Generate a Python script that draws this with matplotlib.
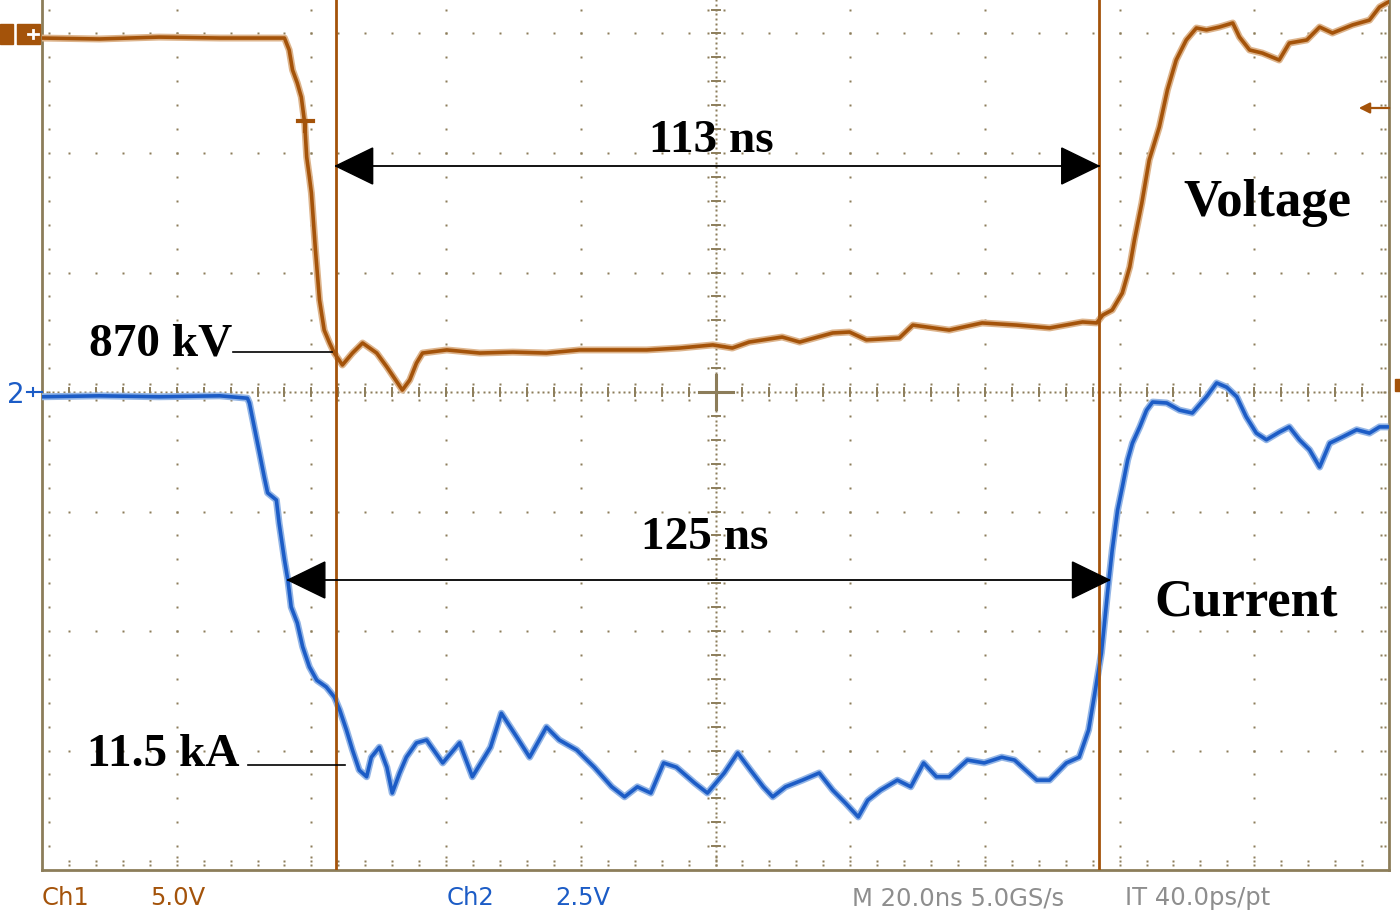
import numpy as np
import matplotlib
matplotlib.use("Agg")
import matplotlib.pyplot as plt
from matplotlib.patches import Polygon, Rectangle
from matplotlib.lines import Line2D

# ---------------- data ----------------
time_v_ns = [-100.0, -91.5, -82.6, -73.6, -64.0, -63.3, -62.8, -62.1, -61.5, -61.0,
             -60.7, -60.3, -60.0, -59.4, -58.8, -58.1, -57.3, -56.6, -55.4, -53.9,
             -52.4, -50.3, -48.8, -47.2, -46.5, -45.4, -44.4, -43.5, -39.9, -35.0,
             -30.1, -25.1, -20.2, -15.3, -10.2, -5.3, -0.4, 2.5, 5.0, 9.9,
             12.5, 17.4, 19.9, 22.4, 27.3, 29.3, 34.7, 39.6, 44.7, 49.6,
             54.5, 56.6, 57.5, 58.9, 60.4, 61.5, 62.2, 63.3, 64.4, 65.9,
             67.1, 68.4, 69.9, 71.4, 72.9, 74.8, 76.8, 77.8, 79.3, 81.2,
             83.7, 85.2, 87.8, 89.7, 91.6, 94.6, 97.1, 98.6, 99.9]
ch1_volts = [-0.19, -0.23, -0.15, -0.19, -0.19, -0.69, -1.53, -2.07, -2.66, -3.74,
             -5.17, -6.00, -6.67, -9.06, -11.15, -12.41, -12.95, -13.37, -13.87, -13.37,
             -12.95, -13.37, -13.95, -14.62, -14.92, -14.50, -13.79, -13.37, -13.24, -13.37,
             -13.33, -13.37, -13.24, -13.24, -13.24, -13.16, -13.03, -13.16, -12.91, -12.70,
             -12.91, -12.53, -12.49, -12.82, -12.74, -12.20, -12.41, -12.11, -12.20, -12.32,
             -12.07, -12.11, -11.78, -11.57, -10.86, -9.77, -8.64, -7.09, -5.29, -3.91,
             -2.36, -1.11, -0.27, 0.23, 0.15, 0.27, 0.44, -0.15, -0.69, -0.82,
             -1.11, -0.40, -0.27, 0.27, 0.02, 0.36, 0.56, 1.11, 1.32]

time_i_ns = [-100.0, -91.5, -82.6, -73.6, -69.5, -69.2, -68.4, -67.7, -67.0, -66.5,
             -65.2, -64.8, -64.0, -63.5, -63.0, -62.1, -61.3, -60.3, -59.2, -57.8,
             -56.6, -55.8, -54.8, -53.9, -52.9, -51.8, -51.1, -49.9, -48.8, -48.0,
             -46.9, -45.9, -44.4, -42.9, -40.5, -38.0, -36.1, -33.4, -31.8, -29.5,
             -27.6, -25.1, -23.2, -20.6, -18.0, -15.4, -13.5, -11.6, -9.6, -7.7,
             -5.8, -3.1, -1.2, 1.3, 3.3, 5.2, 7.1, 8.5, 10.4, 12.9,
             15.4, 17.4, 19.3, 21.2, 22.6, 24.5, 27.0, 29.0, 30.9, 32.8,
             34.7, 37.4, 39.9, 42.5, 44.4, 47.7, 49.6, 52.1, 54.0, 55.4,
             56.4, 57.3, 58.2, 58.9, 59.7, 60.4, 61.2, 61.9, 63.0, 64.0,
             64.9, 67.0, 68.9, 70.8, 72.9, 74.4, 75.9, 77.4, 78.8, 80.3,
             81.8, 83.7, 85.2, 86.7, 88.2, 89.7, 91.2, 93.1, 95.2, 97.1,
             98.6, 99.9]
ch2_volts = [-0.10, -0.08, -0.10, -0.08, -0.13, -0.23, -0.79, -1.28, -1.78, -2.11,
             -2.26, -2.74, -3.51, -3.93, -4.50, -4.83, -5.33, -5.75, -6.03, -6.17,
             -6.38, -6.65, -7.07, -7.49, -7.91, -8.05, -7.64, -7.43, -7.85, -8.39,
             -7.97, -7.64, -7.34, -7.28, -7.76, -7.34, -8.05, -7.43, -6.72, -7.22,
             -7.64, -7.01, -7.28, -7.49, -7.85, -8.26, -8.47, -8.26, -8.39, -7.76,
             -7.85, -8.18, -8.39, -7.97, -7.55, -7.91, -8.26, -8.47, -8.26, -8.12,
             -7.97, -8.33, -8.60, -8.89, -8.54, -8.33, -8.12, -8.26, -7.76, -8.05,
             -8.05, -7.70, -7.76, -7.64, -7.70, -8.12, -8.12, -7.76, -7.64, -7.07,
             -6.23, -5.46, -4.21, -3.31, -2.47, -1.99, -1.42, -1.07, -0.73, -0.38,
             -0.21, -0.23, -0.38, -0.44, -0.10, 0.19, 0.10, -0.10, -0.52, -0.86,
             -1.00, -0.84, -0.73, -1.00, -1.21, -1.57, -1.07, -0.94, -0.79, -0.86,
             -0.73, -0.73]

# scope settings
TIME_SCALE = 20.0     # ns/div
CH1_SCALE = 5.0       # V/div
CH2_SCALE = 2.5       # V/div
CH1_OFFSET = 3.0      # div
CH2_OFFSET = 0.0      # div
cursor_times_ns = [-56.4, 56.9]
current_marks_ns = [-63.5, 58.5]

labels_bottom = ["Ch1", "5.0V", "Ch2", "2.5V", "M 20.0ns 5.0GS/s", "IT 40.0ps/pt"]

# ---------------- styling ----------------
W, H = 1400, 911
GRID = "#8C7D5A"
BROWN = "#A4530A"
BROWN_L = "#DDB48C"
BLUE = "#1C5CC6"
BLUE_L = "#93B5E6"
GRAY = "#8E8E8E"

fig = plt.figure(figsize=(W / 100, H / 100), dpi=100)
fig.patch.set_facecolor("white")

left_px, right_px, bottom_px = 42, 1389, 870
px_per_div_x = (right_px - left_px) / 10.0
px_per_div_y = 119.5
top_px = bottom_px - 8 * px_per_div_y
ax = fig.add_axes([left_px / W, (H - bottom_px) / H,
                   (right_px - left_px) / W, (bottom_px - top_px) / H])
ax.set_xlim(-5, 5)
ax.set_ylim(-4, 4)
ax.set_xticks([])
ax.set_yticks([])
for s in ax.spines.values():
    s.set_color(GRID)
    s.set_linewidth(2.0)
ax.set_facecolor("white")

cx_px = (left_px + right_px) / 2.0
cy_px = bottom_px - 4 * px_per_div_y


def dx(px):
    return (px - cx_px) / px_per_div_x


def dy(py):
    return (cy_px - py) / px_per_div_y


def ddx(n):
    return n / px_per_div_x


def ddy(n):
    return n / px_per_div_y


# ---------------- graticule ----------------
minor = np.round(np.arange(-5, 5.0001, 0.2), 4)
minor_y = np.round(np.arange(-4, 4.0001, 0.2), 4)
dot_kw = dict(ls="none", marker="s", ms=1.8, color=GRID, mec="none", zorder=1)
for yj in range(-3, 4):
    if yj == 0:
        continue
    ax.plot(minor[1:-1], [yj] * (len(minor) - 2), **dot_kw)
for xi in range(-4, 5):
    if xi == 0:
        continue
    ax.plot([xi] * (len(minor_y) - 2), minor_y[1:-1], **dot_kw)

dense_x = np.arange(-5, 5.0001, 0.04)
dense_y = np.arange(-4, 4.0001, 0.04)
ax.plot(dense_x, np.zeros_like(dense_x), **dot_kw)
ax.plot(np.zeros_like(dense_y), dense_y, **dot_kw)
for m in minor[1:-1]:
    ax.plot([m, m], [-ddy(4), ddy(4)], color=GRID, lw=1.4, zorder=1)
    ax.plot([m, m], [-ddy(8), ddy(8)], **dot_kw)
for m in minor_y[1:-1]:
    ax.plot([-ddx(4), ddx(4)], [m, m], color=GRID, lw=1.4, zorder=1)
    ax.plot([-ddx(8), ddx(8)], [m, m], **dot_kw)
ax.plot([-ddx(17), ddx(17)], [0, 0], color=GRID, lw=2.2, zorder=1)
ax.plot([0, 0], [-ddy(17), ddy(17)], color=GRID, lw=2.2, zorder=1)

ax.plot(minor[1:-1], [-4 + ddy(5)] * (len(minor) - 2), **dot_kw)
ax.plot(minor[1:-1], [-4 + ddy(9)] * (len(minor) - 2), **dot_kw)
ax.plot(np.arange(-4, 5), [-4 + ddy(13)] * 9, **dot_kw)
ax.plot([-5 + ddx(7)] * (len(minor_y) - 2), minor_y[1:-1], **dot_kw)
ax.plot([5 - ddx(4)] * (len(minor_y) - 2), minor_y[1:-1], **dot_kw)
ax.plot([5 - ddx(8)] * (len(minor_y) - 2), minor_y[1:-1], **dot_kw)

# ---------------- traces ----------------
tv = np.array(time_v_ns) / TIME_SCALE
yv = CH1_OFFSET + np.array(ch1_volts) / CH1_SCALE
ti = np.array(time_i_ns) / TIME_SCALE
yi = CH2_OFFSET + np.array(ch2_volts) / CH2_SCALE
ax.plot(tv, yv, color=BROWN_L, lw=5.0, zorder=3, solid_capstyle="butt")
ax.plot(tv, yv, color=BROWN, lw=2.6, zorder=4)
ax.plot(ti, yi, color=BLUE_L, lw=5.0, zorder=3, solid_capstyle="butt")
ax.plot(ti, yi, color=BLUE, lw=2.6, zorder=4)

for ct in cursor_times_ns:
    ax.axvline(ct / TIME_SCALE, color=BROWN, lw=2.0, zorder=5)


def dbl_arrow(x0, x1, y):
    ax.plot([x0, x1], [y, y], color="black", lw=1.3, zorder=6)
    hl, hh = ddx(37), ddy(18)
    ax.add_patch(Polygon([[x0, y], [x0 + hl, y + hh], [x0 + hl, y - hh]],
                         closed=True, color="black", zorder=6))
    ax.add_patch(Polygon([[x1, y], [x1 - hl, y + hh], [x1 - hl, y - hh]],
                         closed=True, color="black", zorder=6))


dbl_arrow(cursor_times_ns[0] / TIME_SCALE, cursor_times_ns[1] / TIME_SCALE, dy(166))
dbl_arrow(current_marks_ns[0] / TIME_SCALE, current_marks_ns[1] / TIME_SCALE, dy(580))

serif = dict(family="Liberation Serif", fontweight="bold", color="black", zorder=7)
ax.text(dx(711), dy(152), "113 ns", ha="center", va="baseline", fontsize=34, **serif)
ax.text(dx(705), dy(549), "125 ns", ha="center", va="baseline", fontsize=34, **serif)
ax.text(dx(1267), dy(216), "Voltage", ha="center", va="baseline", fontsize=38, **serif)
ax.text(dx(1246), dy(616), "Current", ha="center", va="baseline", fontsize=38, **serif)
ax.text(dx(232), dy(356), "870 kV", ha="right", va="baseline", fontsize=34, **serif)
ax.text(dx(240), dy(766), "11.5 kA", ha="right", va="baseline", fontsize=34, **serif)
ax.plot([dx(233), dx(332)], [dy(352), dy(352)], color="black", lw=1.2, zorder=6)
ax.plot([dx(248), dx(345)], [dy(765), dy(765)], color="black", lw=1.2, zorder=6)

ax.plot([dx(298), dx(313)], [dy(121), dy(121)], color=BROWN, lw=3, zorder=6)
ax.plot([dx(305.5), dx(305.5)], [dy(121), dy(131)], color=BROWN, lw=3, zorder=6)
ax.annotate("", xy=(dx(1356), dy(108)), xytext=(dx(1392), dy(108)),
            arrowprops=dict(arrowstyle="-|>", color=BROWN, lw=1.6, mutation_scale=16),
            annotation_clip=False, zorder=6)


def fx(px):
    return px / W


def fy(py):
    return 1 - py / H


fig.patches.append(Rectangle((fx(0), fy(44)), fx(13), 20 / H, transform=fig.transFigure,
                             color=BROWN, zorder=5))
fig.patches.append(Rectangle((fx(17), fy(44)), fx(23), 20 / H, transform=fig.transFigure,
                             color=BROWN, zorder=5))
fig.lines.append(Line2D([fx(28), fx(38)], [fy(34), fy(34)], color="white", lw=2,
                        transform=fig.transFigure, zorder=6))
fig.lines.append(Line2D([fx(33), fx(33)], [fy(30), fy(38)], color="white", lw=2,
                        transform=fig.transFigure, zorder=6))
fig.patches.append(Rectangle((fx(1395), fy(391)), fx(5), 12 / H, transform=fig.transFigure,
                             color=BROWN, zorder=5))

fig.text(fx(7), fy(403), "2", color=BLUE, fontsize=20, family="DejaVu Sans", va="baseline")
fig.lines.append(Line2D([fx(27), fx(42)], [fy(392), fy(392)], color=BLUE, lw=1.5,
                        transform=fig.transFigure))
fig.lines.append(Line2D([fx(33), fx(33)], [fy(388), fy(396)], color=BLUE, lw=1.5,
                        transform=fig.transFigure))

bottom_pos = [42, 150, 447, 555, 852, 1125]
bottom_col = [BROWN, BROWN, BLUE, BLUE, GRAY, GRAY]
for lab, px, col in zip(labels_bottom, bottom_pos, bottom_col):
    fig.text(fx(px), fy(905), lab, color=col, fontsize=17.5, family="DejaVu Sans",
             va="baseline", ha="left")

fig.savefig("out.png", dpi=100, facecolor="white")
